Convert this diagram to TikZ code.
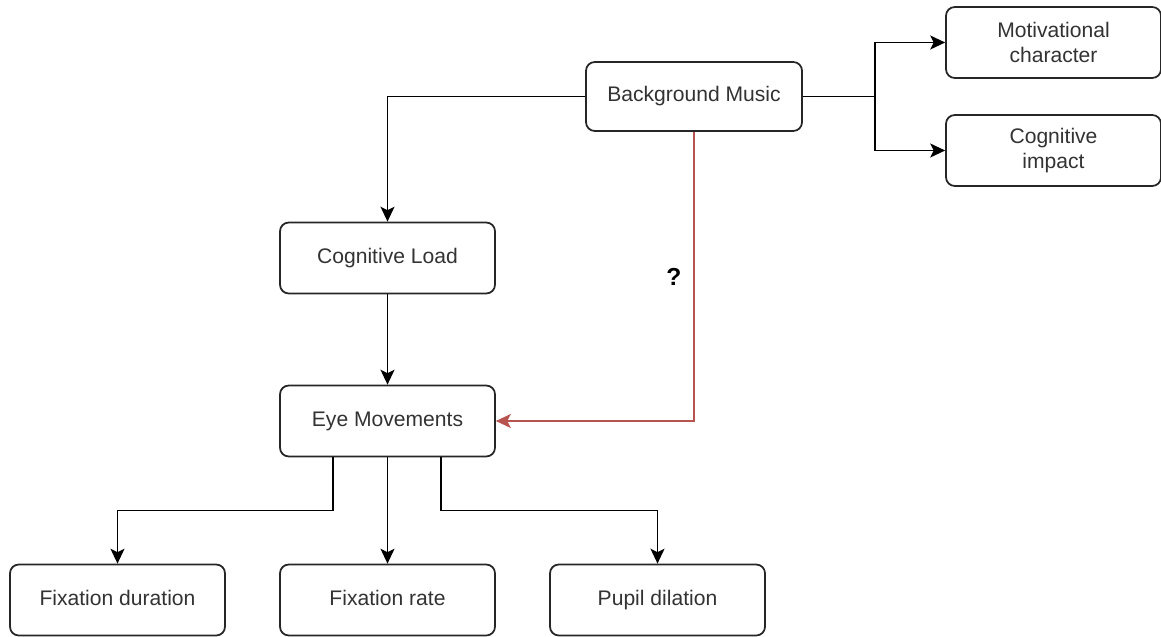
\documentclass[tikz,border=0pt]{standalone}
\usepackage{fontspec}
\setmainfont{Liberation Sans}
\usepackage{xcolor}
\usetikzlibrary{positioning, arrows.meta, calc}

\definecolor{qred}{HTML}{B85450}

\begin{document}
\begin{tikzpicture}[
    >={Stealth[length=8.5pt, width=8pt, inset=2pt]},
    box/.style={
        rectangle, rounded corners=5pt,
        minimum width=4.3cm, minimum height=1.42cm,
        draw=black!85, line width=1pt, fill=white,
        align=center, font=\fontsize{12}{14.4}\selectfont, text=black!80
    },
    one/.style={text height=1.6ex, text depth=0.45ex},
    arr/.style={line width=1pt, ->, black},
    qarr/.style={line width=1pt, ->, qred},
    qlbl/.style={font=\fontsize{14}{16}\selectfont\bfseries, text=black},
]
\useasboundingbox (0,0) rectangle (23.22,-12.74);

% Top row
\node[box, one, minimum width=4.32cm, minimum height=1.38cm] (music) at (13.88,-1.93) {Background Music};
\node[box] (motiv)  at (21.07,-0.85) {Motivational\\character};
\node[box] (impact) at (21.07,-3.01) {Cognitive\\impact};

% Main column
\node[box, one] (load) at (7.75,-5.16) {Cognitive Load};
\node[box, one] (eye)  at (7.75,-8.42) {Eye Movements};

% Measures
\node[box, one] (fixdur)  at (2.35,-12.0)  {Fixation duration};
\node[box, one] (fixrate) at (7.75,-12.0)  {Fixation rate};
\node[box, one] (pupil)   at (13.15,-12.0) {Pupil dilation};

% Music to its effects
\draw[arr] (music.west) -| (load.north);
\draw[arr] (music.east) -- ++(1.44,0) |- (motiv.west);
\draw[arr] (music.east) -- ++(1.44,0) |- (impact.west);

% Open question: direct path
\draw[qarr] (music.south) |- node[pos=0.25, left=0.12cm, qlbl] {?} (eye.east);

\draw[arr] (load) -- (eye);

% Eye movement measures
\draw[arr] ([xshift=-1.09cm]eye.south) -- ++(0,-1.06) -| (fixdur.north);
\draw[arr] (eye) -- (fixrate);
\draw[arr] ([xshift=1.07cm]eye.south) -- ++(0,-1.06) -| (pupil.north);

\end{tikzpicture}
\end{document}
